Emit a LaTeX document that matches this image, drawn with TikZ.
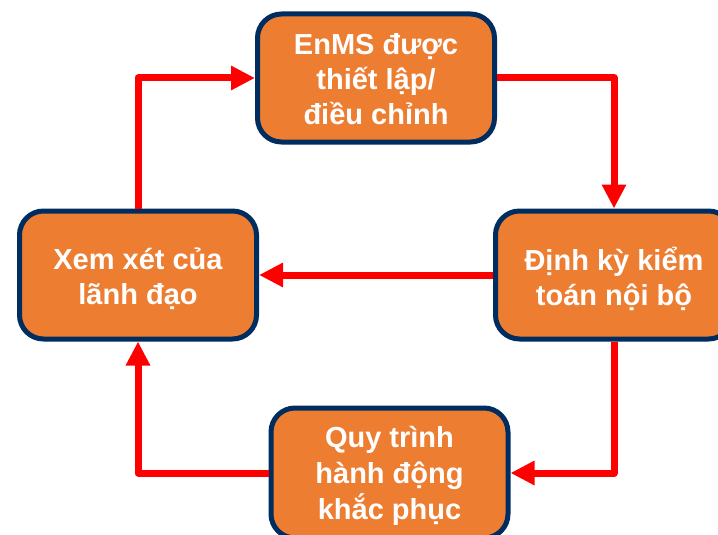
\documentclass[tikz,border=0pt]{standalone}
\usepackage{fontspec}
\setmainfont{Liberation Sans}
\usetikzlibrary{arrows.meta}
\definecolor{boxfill}{RGB}{237,125,49}
\definecolor{boxline}{RGB}{0,45,95}
\definecolor{arrred}{RGB}{255,0,0}
\begin{document}
\begin{tikzpicture}[x=1pt,y=-1pt,
  stagebox/.style={draw=boxline, fill=boxfill, line width=5pt, rounded corners=24pt,
    minimum width=237pt, minimum height=128pt},
  boxtext/.style={align=center, text=white, inner sep=0pt,
    font=\fontsize{29}{35}\selectfont\bfseries},
  flow/.style={draw=arrred, line width=7pt, line join=round,
    -{Triangle[length=24pt,width=23pt]}}]
\useasboundingbox (0,0) rectangle (718,535);
\clip (0,0) rectangle (718,535);
\node[stagebox] (top) at (376,78) {};
\node[stagebox] (right) at (614,275) {};
\node[stagebox] (left) at (138,275) {};
\node[stagebox, minimum height=130pt] (bottom) at (389.5,473) {};
\node[boxtext] (toptext) at ([yshift=-1pt]top.center) {EnMS được\\thiết lập/\\điều chỉnh};
\node[boxtext] (righttext) at ([yshift=-4pt]right.center) {Định kỳ kiểm\\toán nội bộ};
\node[boxtext] (lefttext) at ([yshift=-4pt]left.center) {Xem xét của\\lãnh đạo};
\node[boxtext, font=\fontsize{29}{36}\selectfont\bfseries] (bottomtext) at ([yshift=-3pt]bottom.center) {Quy trình\\hành động\\khắc phục};
\draw[flow] (left.north) |- (top.west);
\draw[flow] (top.east) -| (right.north);
\draw[flow] (right.west) -- (left.east);
\draw[flow] (right.south) |- (bottom.east);
\draw[flow] (bottom.west) -| (left.south);
\end{tikzpicture}
\end{document}
